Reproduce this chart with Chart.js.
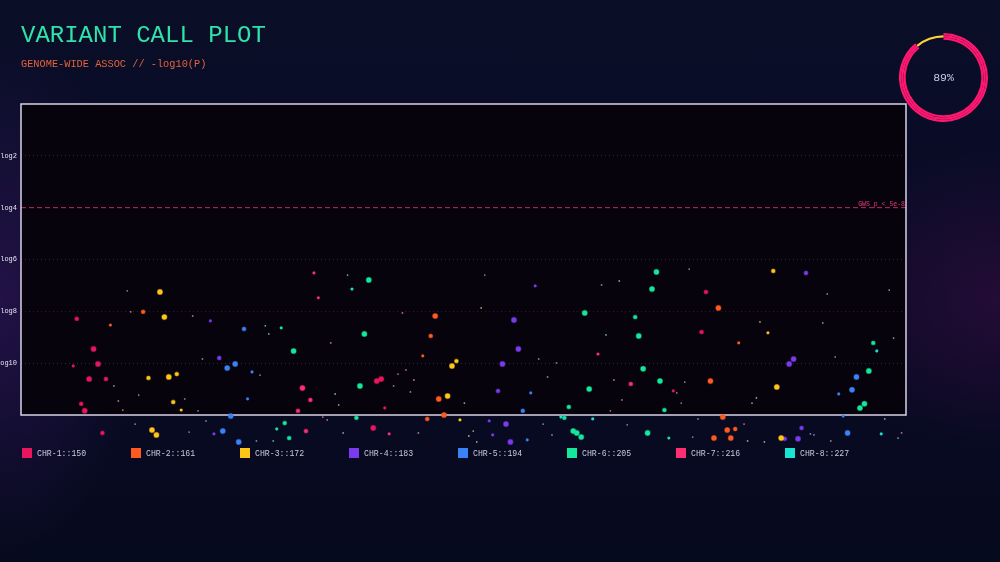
<!DOCTYPE html>
<html>
<head>
<meta charset="utf-8">
<title>Variant Call Plot</title>
<script src="https://cdn.jsdelivr.net/npm/chart.js@4.4.0/dist/chart.umd.min.js"></script>
<style>
  html, body {
    margin: 0;
    padding: 0;
    width: 1000px;
    height: 562px;
    overflow: hidden;
  }
  body {
    position: relative;
    background:
      radial-gradient(ellipse 190px 150px at 1000px 300px, rgba(95, 16, 90, 0.30), rgba(95, 16, 90, 0) 100%),
      radial-gradient(ellipse 140px 260px at 0px 300px, rgba(70, 30, 120, 0.40), rgba(70, 30, 120, 0) 100%),
      linear-gradient(180deg, #0a0e27 0%, #0a0a26 55%, #060a1d 100%);
  }
  #plot {
    position: absolute;
    left: 0;
    top: 0;
  }
  #gauge {
    position: absolute;
    left: 899px;
    top: 33px;
  }
</style>
</head>
<body>
<canvas id="plot" width="1000" height="562"></canvas>
<canvas id="gauge" width="89" height="89"></canvas>
<script>
// ---- data ----
const chromosomes = ['CHR-1', 'CHR-2', 'CHR-3', 'CHR-4', 'CHR-5', 'CHR-6', 'CHR-7', 'CHR-8'];
const variantCounts = [150, 161, 172, 183, 194, 205, 216, 227];
const yTicks = [2, 4, 6, 8, 10];
const yFrameMax = 12;      // bottom edge of the framed plot
const gwsThreshold = 4;
const gwsLabel = 'GWS p < 5e-8';
const completion = [89, 11];

// each variant: [genome position %, -log10(p), effect class 1..4]
const chr1 = [
  [6.3, 8.29, 3], [8.2, 9.45, 4], [5.9, 10.11, 2], [8.7, 10.03, 4], [7.7, 10.61, 4],
  [9.6, 10.61, 3], [6.8, 11.57, 3], [7.2, 11.84, 4], [9.2, 12.69, 3], [40.7, 10.61, 4],
  [40.2, 10.69, 4], [41.1, 11.73, 2], [39.8, 12.50, 4], [77.4, 7.25, 3], [76.9, 8.80, 3],
  [73.7, 11.07, 2], [74.1, 11.15, 1], [76.5, 12.15, 1], [12.0, 7.21, 1], [74.6, 11.54, 1],
  [66.6, 11.84, 1], [75.9, 12.85, 1]
];
const chr2 = [
  [13.8, 8.02, 3], [10.1, 8.53, 2], [10.5, 10.88, 1], [13.3, 11.23, 1], [46.8, 8.18, 4],
  [46.3, 8.95, 3], [45.4, 9.72, 2], [44.4, 10.65, 1], [47.2, 11.38, 4], [47.8, 12.00, 4],
  [44.9, 12.69, 1], [45.9, 12.15, 3], [78.8, 7.87, 4], [81.1, 9.22, 2], [77.9, 10.69, 4],
  [79.3, 12.08, 4], [78.3, 12.89, 4], [79.8, 12.58, 4], [80.7, 12.54, 3], [80.2, 12.89, 4],
  [81.7, 12.35, 1], [12.4, 8.02, 1], [44.0, 11.11, 1], [75.0, 10.73, 1], [11.0, 11.46, 1],
  [11.5, 11.81, 1]
];
const chr3 = [
  [15.7, 7.25, 4], [16.2, 8.22, 4], [14.4, 10.57, 3], [16.7, 10.53, 4], [17.6, 10.42, 3],
  [17.2, 11.50, 3], [18.1, 11.81, 2], [14.8, 12.58, 4], [15.3, 12.77, 4], [48.7, 10.11, 4],
  [49.2, 9.92, 3], [48.2, 11.27, 4], [50.1, 11.54, 1], [52.0, 7.87, 1], [49.6, 12.19, 2],
  [84.4, 8.83, 2], [85.0, 6.44, 3], [85.4, 10.92, 4], [85.9, 12.89, 4], [82.1, 13.00, 1],
  [84.0, 13.04, 1], [83.5, 8.41, 1], [51.1, 12.62, 1], [83.1, 11.34, 1], [82.6, 11.54, 1],
  [50.6, 12.81, 1], [51.5, 13.04, 1]
];
const chr4 = [
  [19.4, 8.18, 1], [21.4, 8.37, 2], [22.4, 9.80, 3], [18.5, 11.38, 1], [20.9, 12.23, 1],
  [21.8, 12.73, 2], [52.4, 6.60, 1], [58.1, 7.02, 2], [55.7, 8.33, 4], [56.2, 9.45, 4],
  [54.4, 10.03, 4], [60.5, 9.99, 1], [53.9, 11.07, 3], [52.9, 12.23, 2], [54.8, 12.35, 4],
  [53.3, 12.77, 2], [55.3, 13.04, 4], [88.7, 6.52, 3], [92.0, 9.76, 1], [87.3, 9.84, 4],
  [86.8, 10.03, 4], [86.3, 12.92, 3], [87.8, 12.92, 4], [88.2, 12.50, 3], [89.2, 12.73, 1],
  [89.6, 12.77, 1], [20.5, 9.84, 1], [58.5, 9.84, 1], [91.1, 7.33, 1], [90.6, 8.45, 1],
  [20.0, 11.84, 1], [19.0, 12.66, 1]
];
const chr5 = [
  [23.3, 10.19, 4], [24.2, 10.03, 4], [25.2, 8.68, 3], [26.1, 10.34, 2], [25.6, 11.38, 2],
  [23.7, 12.04, 4], [22.8, 12.62, 4], [24.6, 13.04, 4], [57.6, 11.15, 2], [56.7, 11.84, 3],
  [57.2, 12.96, 2], [94.4, 10.53, 4], [93.9, 11.03, 4], [92.4, 11.19, 2], [92.9, 12.04, 2],
  [93.4, 12.69, 4], [27.0, 10.46, 1], [26.6, 13.00, 1], [59.5, 10.53, 1], [59.0, 12.35, 1],
  [91.5, 13.00, 1], [60.0, 12.77, 1]
];
const chr6 = [
  [29.4, 8.64, 2], [30.8, 9.53, 4], [29.8, 12.31, 3], [28.9, 12.54, 2], [30.3, 12.89, 3],
  [39.3, 6.79, 4], [38.8, 8.87, 4], [38.3, 10.88, 4], [37.9, 12.11, 3], [63.7, 8.06, 4],
  [64.2, 11.00, 4], [61.9, 11.69, 3], [61.4, 12.11, 3], [62.4, 12.62, 4], [62.8, 12.69, 4],
  [63.3, 12.85, 4], [71.8, 6.48, 4], [71.3, 7.14, 4], [69.4, 8.22, 3], [69.8, 8.95, 4],
  [70.3, 10.22, 4], [72.2, 10.69, 4], [72.7, 11.81, 3], [70.8, 12.69, 4], [73.2, 12.89, 2],
  [95.8, 10.30, 4], [95.3, 11.57, 4], [94.8, 11.73, 4], [96.3, 9.22, 3], [28.5, 13.00, 1]
];
const chr7 = [
  [33.1, 6.52, 2], [33.6, 7.48, 2], [31.8, 10.96, 4], [32.7, 11.42, 3], [31.3, 11.84, 3],
  [12.9, 12.35, 1], [32.2, 12.62, 3], [34.1, 12.08, 1], [34.6, 12.19, 1], [41.6, 12.73, 2],
  [43.5, 10.26, 1], [42.6, 10.42, 1], [42.1, 10.88, 1], [65.2, 9.65, 2], [65.6, 6.98, 1],
  [68.9, 10.80, 3], [68.5, 12.38, 1], [75.5, 6.37, 1], [99.5, 12.69, 1], [35.0, 9.22, 1],
  [43.1, 8.06, 1], [67.0, 10.65, 1], [67.9, 11.42, 1]
];
const chr8 = [
  [36.9, 6.60, 1], [37.4, 7.14, 2], [36.4, 12.69, 1], [61.0, 12.08, 2], [64.6, 12.15, 2],
  [96.7, 9.53, 2], [97.6, 12.15, 1], [97.2, 12.73, 2], [27.6, 8.56, 1], [28.0, 8.87, 1],
  [98.1, 7.18, 1], [98.6, 9.03, 1], [99.1, 12.89, 1], [67.6, 6.83, 1], [66.1, 8.91, 1],
  [35.5, 11.19, 1], [35.9, 11.61, 1]
];
const variantsByChr = [chr1, chr2, chr3, chr4, chr5, chr6, chr7, chr8];

// ---- styling ----
const MONO = "'Liberation Mono', 'DejaVu Sans Mono', monospace";
const chrColors = ['#e8175d', '#ff5a1f', '#ffc61a', '#7c3aed', '#3b82f6', '#14e89c', '#ff2d74', '#19e3d2'];
const radiusByClass = [0, 0.9, 1.4, 1.9, 2.5];

function hexToRgb(hex) {
  const n = parseInt(hex.slice(1), 16);
  return [(n >> 16) & 255, (n >> 8) & 255, n & 255];
}

function rgba(hex, a) {
  const [r, g, b] = hexToRgb(hex);
  return `rgba(${r}, ${g}, ${b}, ${a})`;
}

// tiny variants look washed-out, close to white
function pale(hex, a) {
  const [r, g, b] = hexToRgb(hex).map(c => Math.round(c + (255 - c) * 0.55));
  return `rgba(${r}, ${g}, ${b}, ${a})`;
}

const datasets = variantsByChr.map((rows, i) => ({
  label: chromosomes[i] + '::' + variantCounts[i],
  data: rows.map(([x, y, w]) => ({ x, y, w })),
  clip: false,
  pointRadius: ctx => radiusByClass[ctx.raw.w],
  pointHoverRadius: ctx => radiusByClass[ctx.raw.w] + 1,
  pointBackgroundColor: ctx => ctx.raw.w === 1 ? pale(chrColors[i], 0.7) : chrColors[i],
  pointBorderColor: ctx => ctx.raw.w === 1 ? 'rgba(0,0,0,0)' : rgba(chrColors[i], 0.45),
  pointBorderWidth: ctx => ctx.raw.w >= 3 ? 1.2 : 0.6
}));

// framed plot box: from top of the scale down to yFrameMax
function frameBox(chart) {
  const a = chart.chartArea;
  const bottom = chart.scales.y.getPixelForValue(yFrameMax);
  return { left: a.left, top: a.top, right: a.right, bottom };
}

const plotDecor = {
  id: 'plotDecor',
  beforeDraw(chart) {
    const { ctx } = chart;
    const b = frameBox(chart);
    ctx.save();
    ctx.fillStyle = '#06030d';
    ctx.fillRect(b.left, b.top, b.right - b.left, b.bottom - b.top);
    ctx.restore();
  },
  beforeDatasetsDraw(chart) {
    const { ctx } = chart;
    const b = frameBox(chart);
    const y = chart.scales.y.getPixelForValue(gwsThreshold);
    ctx.save();
    ctx.strokeStyle = 'rgba(232, 48, 110, 0.85)';
    ctx.lineWidth = 1;
    ctx.setLineDash([5, 3]);
    ctx.beginPath();
    ctx.moveTo(b.left, y);
    ctx.lineTo(b.right, y);
    ctx.stroke();
    ctx.setLineDash([]);
    ctx.font = `6.5px ${MONO}`;
    ctx.fillStyle = '#ea3c7c';
    ctx.textAlign = 'right';
    ctx.textBaseline = 'alphabetic';
    ctx.fillText(gwsLabel, b.right - 1, y - 2);

    ctx.strokeStyle = '#d9d2ea';
    ctx.lineWidth = 1.5;
    ctx.strokeRect(b.left, b.top, b.right - b.left, b.bottom - b.top);
    ctx.restore();
  },
  afterDraw(chart) {
    const { ctx } = chart;
    ctx.save();
    // headings
    ctx.textAlign = 'left';
    ctx.textBaseline = 'alphabetic';
    ctx.font = `24px ${MONO}`;
    ctx.fillStyle = '#2fe3aa';
    ctx.fillText('VARIANT CALL PLOT', 21, 42);
    ctx.font = `10.3px ${MONO}`;
    ctx.fillStyle = '#e4623c';
    ctx.fillText('GENOME-WIDE ASSOC // -log10(P)', 21, 67);

    // legend row
    ctx.font = `8.2px ${MONO}`;
    chart.data.datasets.forEach((ds, i) => {
      const x = 22 + i * 109;
      ctx.fillStyle = chrColors[i];
      ctx.fillRect(x, 448, 10, 10);
      ctx.fillStyle = '#c9c9da';
      ctx.fillText(ds.label, x + 15, 456);
    });
    ctx.restore();
  }
};

new Chart(document.getElementById('plot'), {
  type: 'scatter',
  data: { datasets },
  options: {
    responsive: false,
    animation: false,
    layout: {
      // scale runs to 13.2 so sub-threshold variants spill below the frame
      padding: { top: 104, right: 94, bottom: 115.9, left: 0 }
    },
    plugins: {
      legend: { display: false },
      tooltip: { enabled: false }
    },
    scales: {
      x: {
        type: 'linear',
        min: 0,
        max: 100,
        display: false
      },
      y: {
        type: 'linear',
        min: 0,
        max: 13.2,
        reverse: true,
        afterFit: scale => { scale.width = 21; },
        afterBuildTicks: scale => {
          scale.ticks = yTicks.map(v => ({ value: v }));
        },
        border: { display: false, dash: [1, 3] },
        grid: {
          drawTicks: false,
          color: ctx => {
            const v = ctx.tick && ctx.tick.value;
            if (v === gwsThreshold) return 'rgba(0, 0, 0, 0)';
            if (v === 8) return 'rgba(120, 28, 60, 0.55)';
            return 'rgba(255, 255, 255, 0.16)';
          }
        },
        ticks: {
          padding: 4,
          color: '#e6e4f2',
          font: { family: MONO, size: 7 },
          callback: v => 'log' + v
        }
      }
    }
  },
  plugins: [plotDecor]
});

// ---- completion gauge ----
const gaugeText = {
  id: 'gaugeText',
  afterDraw(chart) {
    const { ctx, chartArea: a } = chart;
    ctx.save();
    ctx.font = `11.5px ${MONO}`;
    ctx.fillStyle = '#c8cce2';
    ctx.textAlign = 'center';
    ctx.textBaseline = 'middle';
    ctx.fillText(completion[0] + '%', (a.left + a.right) / 2, (a.top + a.bottom) / 2 + 0.5);
    ctx.restore();
  }
};

const ringPink = '#ff1870';
const ringYellow = '#ffd43a';
const clear = 'rgba(0,0,0,0)';

new Chart(document.getElementById('gauge'), {
  type: 'doughnut',
  data: {
    datasets: [
      { data: completion, backgroundColor: [ringPink, clear], borderWidth: 0 },
      { data: completion, backgroundColor: [ringPink, ringYellow], borderWidth: 0 },
      { data: completion, backgroundColor: [ringPink, clear], borderWidth: 0 }
    ]
  },
  options: {
    responsive: false,
    animation: false,
    cutout: '85%',
    layout: { padding: 0 },
    plugins: {
      legend: { display: false },
      tooltip: { enabled: false }
    }
  },
  plugins: [gaugeText]
});
</script>
</body>
</html>
